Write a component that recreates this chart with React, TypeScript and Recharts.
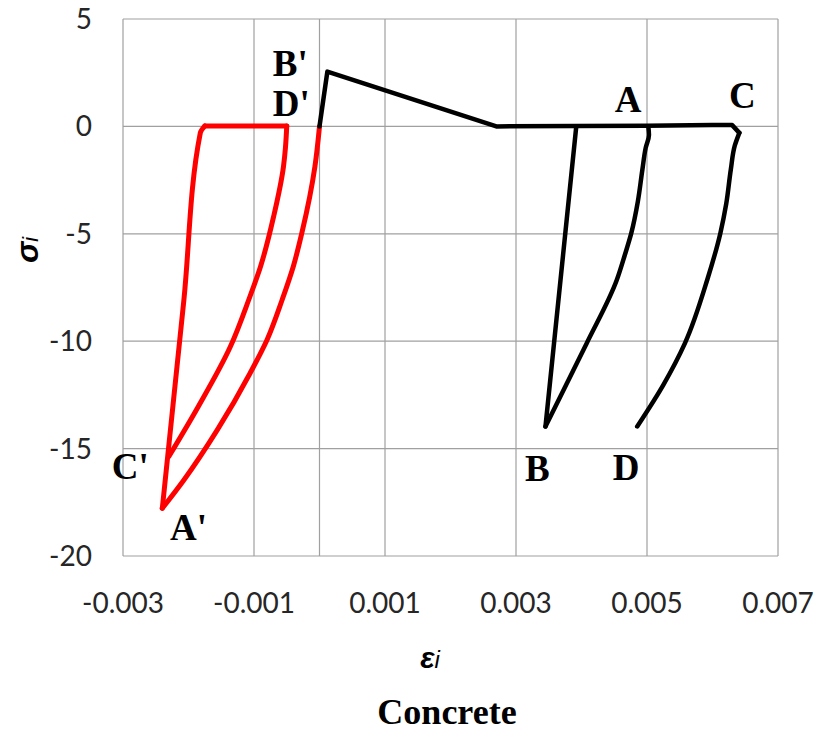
import { ComposedChart, Line, Scatter, XAxis, YAxis, CartesianGrid, Label } from 'recharts';

// axis ticks (0 gets a gridline but no label)
const xTicks = [-0.003, -0.001, 0, 0.001, 0.003, 0.005, 0.007];
const yTicks = [5, 0, -5, -10, -15, -20];

// black: tension peak and envelope along zero, up to C
const blackEnvX = [0, 0.00012, 0.0027, 0.0039, 0.005, 0.006, 0.0063, 0.00641];
const blackEnvY = [0, 2.55, 0, 0.02, 0.03, 0.07, 0.06, -0.3];
// black: unloading C -> D
const blackCDX = [0.00641, 0.00634, 0.00628, 0.00621, 0.00612, 0.00592, 0.00558, 0.00525, 0.00485];
const blackCDY = [-0.3, -0.9, -2.0, -3.6, -4.97, -7.14, -10.09, -12.03, -13.97];
// black: straight drop to B
const blackABX = [0.00392, 0.00345];
const blackABY = [0, -13.97];
// black: B back to zero near A
const blackBAX = [0.00345, 0.00377, 0.00408, 0.00454, 0.00466, 0.00476, 0.00486, 0.00493, 0.00498, 0.00503, 0.00502];
const blackBAY = [-13.97, -12.0, -10.09, -7.14, -6.0, -4.97, -3.5, -2.0, -1.0, -0.4, 0];

// red: D' -> A'
const redOuterX = [0, -0.00007, -0.00027, -0.0004, -0.00057, -0.0008, -0.00106, -0.00156, -0.00207, -0.0024];
const redOuterY = [0, -1.87, -4.97, -6.52, -8.07, -9.93, -11.49, -14.13, -16.46, -17.78];
// red: A' straight back up
const redLeftX = [-0.0024, -0.00207, -0.00182, -0.00175];
const redLeftY = [-17.78, -8.07, -0.31, 0.02];
// red: along zero
const redTopX = [-0.00175, -0.0005];
const redTopY = [0.02, 0.02];
// red: down to C'
const redInnerX = [-0.0005, -0.00052, -0.00055, -0.0007, -0.0009, -0.00108, -0.00136, -0.00185, -0.0023];
const redInnerY = [0.02, -1.0, -1.87, -4.19, -6.52, -8.07, -10.25, -13.04, -15.37];

// point letters
const labelNames = ['A', 'B', 'C', 'D', "A'", "B'", "C'", "D'"];
const labelX = [0.00471, 0.003325, 0.006455, 0.00468, -0.002, -0.000446, -0.00289, -0.00043];
const labelY = [1.24, -15.95, 1.43, -15.9, -18.69, 2.92, -15.85, 1.05];

const toPoints = (xs: number[], ys: number[]) => xs.map((x, i) => ({ x, y: ys[i] }));

const segments = [
  { data: toPoints(redOuterX, redOuterY), color: '#ff0000', type: 'monotoneY' },
  { data: toPoints(redLeftX, redLeftY), color: '#ff0000', type: 'monotoneY' },
  { data: toPoints(redTopX, redTopY), color: '#ff0000', type: 'linear' },
  { data: toPoints(redInnerX, redInnerY), color: '#ff0000', type: 'monotoneY' },
  { data: toPoints(blackEnvX, blackEnvY), color: '#000000', type: 'linear' },
  { data: toPoints(blackCDX, blackCDY), color: '#000000', type: 'monotoneY' },
  { data: toPoints(blackABX, blackABY), color: '#000000', type: 'linear' },
  { data: toPoints(blackBAX, blackBAY), color: '#000000', type: 'monotoneY' },
];
const pointLabels = labelNames.map((name, i) => ({ name, x: labelX[i], y: labelY[i] }));

const tickFont = { fontFamily: 'Lato, sans-serif', fontSize: 28, fill: '#262626' };

const XTick = (props: any) => {
  const { x, y, payload } = props;
  if (payload.value === 0) return <g />;
  return (
    <text x={x} y={y + 57} textAnchor="middle" {...tickFont}>
      {String(payload.value)}
    </text>
  );
};

const YTick = (props: any) => {
  const { x, y, payload } = props;
  return (
    <text x={x} y={y + 10} textAnchor="end" {...tickFont}>
      {String(payload.value)}
    </text>
  );
};

const LetterShape = (props: any) => {
  const { cx, cy, payload } = props;
  return (
    <text
      x={cx}
      y={cy + 12}
      textAnchor="middle"
      fontFamily="'Liberation Serif', 'Times New Roman', serif"
      fontWeight="bold"
      fontSize={37}
      fill="#000"
    >
      {payload.name}
    </text>
  );
};

export default function App() {
  return (
    <div style={{ position: 'absolute', left: 0, top: 0, width: 821, height: 734, background: '#fff' }}>
      <ComposedChart width={821} height={734} margin={{ top: 19, right: 43, bottom: 118, left: 0 }}>
        <CartesianGrid stroke="#a0a0a0" strokeWidth={1.2} />
        <XAxis
          type="number"
          dataKey="x"
          domain={[-0.003, 0.007]}
          ticks={xTicks}
          height={60}
          tickSize={0}
          tickMargin={0}
          axisLine={false}
          tickLine={false}
          tick={<XTick />}
          interval={0}
        >
          <Label
            content={() => (
              <g>
                <text
                  x={430}
                  y={668}
                  textAnchor="middle"
                  fontFamily="'Liberation Sans', Arial, sans-serif"
                  fontWeight="bold"
                  fontStyle="italic"
                  fontSize={30}
                  fill="#000"
                >
                  ε<tspan fontSize={24} fontWeight="normal">i</tspan>
                </text>
                <text
                  x={447}
                  y={724}
                  textAnchor="middle"
                  fontFamily="'Liberation Serif', 'Times New Roman', serif"
                  fontWeight="bold"
                  fontSize={36}
                  fill="#000"
                >
                  Concrete
                </text>
              </g>
            )}
          />
        </XAxis>
        <YAxis
          type="number"
          dataKey="y"
          domain={[-20, 5]}
          ticks={yTicks}
          width={123}
          tickSize={0}
          tickMargin={31}
          axisLine={false}
          tickLine={false}
          tick={<YTick />}
          interval={0}
        >
          <Label
            content={() => (
              <text
                transform="translate(38,250) rotate(-90)"
                textAnchor="middle"
                fontFamily="'Liberation Sans', Arial, sans-serif"
                fontWeight="bold"
                fontStyle="italic"
                fontSize={32}
                fill="#000"
              >
                σ<tspan fontSize={22} fontWeight="normal">i</tspan>
              </text>
            )}
          />
        </YAxis>
        {segments.map((s, i) => (
          <Line
            key={i}
            data={s.data}
            dataKey="y"
            type={s.type as any}
            stroke={s.color}
            strokeWidth={s.color === '#ff0000' ? 5 : 4.5}
            strokeLinejoin="round"
            strokeLinecap="round"
            dot={false}
            isAnimationActive={false}
          />
        ))}
        <Scatter data={pointLabels} dataKey="y" shape={<LetterShape />} isAnimationActive={false} />
      </ComposedChart>
    </div>
  );
}
